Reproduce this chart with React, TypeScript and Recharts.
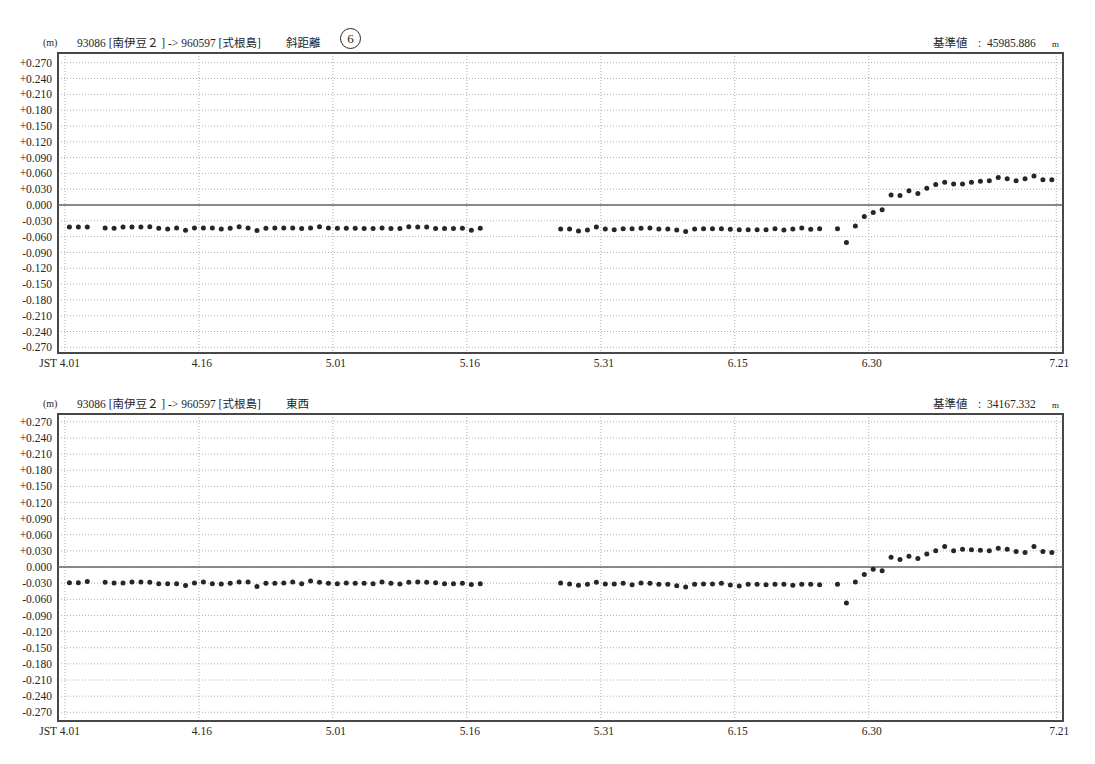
import React, { FC } from 'react';
import {
  ScatterChart,
  CartesianGrid,
  XAxis,
  YAxis,
  ReferenceLine,
  ReferenceArea,
  Scatter,
} from 'recharts';

// days counted from 4.01 (JST); observations missing on 4.04, 5.17-5.25 and 6.26
const observedDays = [
  0, 1, 2, 4, 5, 6, 7, 8, 9, 10, 11, 12, 13, 14, 15, 16, 17, 18, 19, 20, 21, 22, 23, 24,
  25, 26, 27, 28, 29, 30, 31, 32, 33, 34, 35, 36, 37, 38, 39, 40, 41, 42, 43, 44, 45, 46,
  55, 56, 57, 58, 59, 60, 61, 62, 63, 64, 65, 66, 67, 68, 69, 70, 71, 72, 73, 74, 75, 76,
  77, 78, 79, 80, 81, 82, 83, 84,
  86, 87, 88, 89, 90, 91, 92, 93, 94, 95, 96, 97, 98, 99, 100, 101, 102, 103, 104, 105,
  106, 107, 108, 109, 110,
];

// 斜距離 (m)
const slopeDistance = [
  -0.0417, -0.0417, -0.0417,
  -0.0436, -0.0442, -0.0417, -0.0417, -0.0417, -0.0411, -0.0442, -0.0455, -0.0436, -0.048,
  -0.0436, -0.0436, -0.0436, -0.0455, -0.0442, -0.0411, -0.0436, -0.0486, -0.0442, -0.0436,
  -0.0436, -0.0436, -0.0448, -0.0436, -0.0411, -0.0436, -0.0442, -0.0442, -0.0442, -0.0448,
  -0.0448, -0.0436, -0.0448, -0.0448, -0.0411, -0.0417, -0.0417, -0.0448, -0.0448, -0.0448,
  -0.0442, -0.048, -0.0442,
  -0.0456, -0.0456, -0.0495, -0.0475, -0.0418, -0.0456, -0.0469, -0.045, -0.045, -0.0443,
  -0.0437, -0.0456, -0.0456, -0.0475, -0.0501, -0.0456, -0.045, -0.045, -0.045, -0.0462,
  -0.0469, -0.0469, -0.0469, -0.0469, -0.045, -0.0475, -0.0456, -0.0437, -0.0462, -0.045,
  -0.045, -0.071, -0.04, -0.022, -0.014, -0.009, 0.019, 0.018, 0.027, 0.022, 0.032, 0.039,
  0.043, 0.04, 0.04, 0.043, 0.045, 0.046, 0.052, 0.05, 0.046, 0.05, 0.055, 0.048, 0.048,
];

// 東西 (m)
const eastWest = [
  -0.0291, -0.0291, -0.0268,
  -0.0285, -0.0297, -0.0297, -0.028, -0.028, -0.0285, -0.0309, -0.0309, -0.0309, -0.0344,
  -0.0297, -0.028, -0.0309, -0.0315, -0.0303, -0.028, -0.028, -0.0361, -0.0303, -0.0303,
  -0.0297, -0.028, -0.0309, -0.0262, -0.0285, -0.0303, -0.0309, -0.0297, -0.0303, -0.0303,
  -0.0309, -0.028, -0.0303, -0.0315, -0.0285, -0.028, -0.0285, -0.0291, -0.0309, -0.0309,
  -0.0303, -0.0326, -0.0309,
  -0.0297, -0.0315, -0.034, -0.0322, -0.0285, -0.0315, -0.0315, -0.0303, -0.0328, -0.0297,
  -0.0303, -0.0322, -0.0322, -0.0346, -0.0371, -0.0322, -0.0315, -0.0315, -0.0303, -0.0334,
  -0.0353, -0.0322, -0.0322, -0.0328, -0.0322, -0.0322, -0.034, -0.0322, -0.0322, -0.0328,
  -0.032, -0.067, -0.028, -0.014, -0.004, -0.007, 0.018, 0.014, 0.02, 0.016, 0.024, 0.03,
  0.038, 0.03, 0.033, 0.032, 0.031, 0.03, 0.035, 0.033, 0.029, 0.027, 0.038, 0.029, 0.027,
];

const dateTicks = [0, 15, 30, 45, 60, 75, 90, 111];
const dateLabels = ['JST 4.01', '4.16', '5.01', '5.16', '5.31', '6.15', '6.30', '7.21'];
const valueTicks = [
  0.27, 0.24, 0.21, 0.18, 0.15, 0.12, 0.09, 0.06, 0.03, 0, -0.03, -0.06, -0.09, -0.12,
  -0.15, -0.18, -0.21, -0.24, -0.27,
];

const X_DOMAIN: [number, number] = [-0.78, 111.75];
const FONT = "'Liberation Serif', 'Noto Sans CJK JP', serif";
const INK = '#262626';

const fmtValue = (v: number) => (v > 0 ? `+${v.toFixed(3)}` : v.toFixed(3));

const renderDateTick = (props: any) => {
  const { x, y, payload } = props;
  const i = dateTicks.indexOf(payload.value);
  const first = i === 0;
  return (
    <text
      x={first ? x + 15 : x + 3}
      y={y}
      dy="0.71em"
      textAnchor={first ? 'end' : 'middle'}
      fill={INK}
      fontSize={11.5}
      fontFamily={FONT}
    >
      {dateLabels[i]}
    </text>
  );
};

const renderDot = (props: any) => (
  <circle cx={props.cx} cy={props.cy} r={2.5} fill="#262626" />
);

const Label: FC<{ left: number; y: number; text: string; size?: number }> = ({
  left,
  y,
  text,
  size = 11.5,
}) => (
  <span
    style={{
      position: 'absolute',
      left,
      top: y - 8,
      lineHeight: '16px',
      fontSize: size,
      fontFamily: FONT,
      color: INK,
      whiteSpace: 'pre',
    }}
  >
    {text}
  </span>
);

type PanelProps = {
  top: number;
  values: number[];
  component: string;
  baseValue: string;
  circled?: string;
  plotHeight: number;
  yDomain: [number, number];
};

const MARGIN_TOP = 53;

const Panel: FC<PanelProps> = ({ top, values, component, baseValue, circled, plotHeight, yDomain }) => {
  const data = observedDays.map((d, i) => ({ t: d + 0.5, v: values[i] }));
  const height = MARGIN_TOP + plotHeight + 25;
  return (
    <div style={{ position: 'absolute', left: 0, top, width: 1095, height }}>
      <Label left={43} y={43} text="(m)" size={10} />
      <Label left={77} y={43} text="93086 [南伊豆２ ] -> 960597 [式根島]" />
      <Label left={286} y={43} text={component} />
      {circled && (
        <span
          style={{
            position: 'absolute',
            left: 340,
            top: 28,
            width: 19,
            height: 19,
            border: `1px solid ${INK}`,
            borderRadius: '50%',
            textAlign: 'center',
            lineHeight: '19px',
            fontSize: 13,
            fontFamily: FONT,
            color: INK,
          }}
        >
          {circled}
        </span>
      )}
      <Label left={933} y={43} text="基準値" />
      <Label left={978} y={43} text={`:  ${baseValue}`} />
      <Label left={1052} y={44} text="m" size={9} />
      <ScatterChart
        width={1095}
        height={height}
        margin={{ top: MARGIN_TOP, right: 32, bottom: 5, left: 8 }}
      >
        <CartesianGrid stroke="#b0b0b0" strokeDasharray="1 2" />
        <XAxis
          type="number"
          dataKey="t"
          domain={X_DOMAIN}
          ticks={dateTicks}
          interval={0}
          allowDataOverflow
          axisLine={false}
          tickLine={false}
          tickSize={4}
          tickMargin={2}
          height={20}
          tick={renderDateTick}
        />
        <YAxis
          type="number"
          dataKey="v"
          domain={yDomain}
          ticks={valueTicks}
          interval={0}
          allowDataOverflow
          axisLine={false}
          tickLine={false}
          tickSize={4}
          tickMargin={2}
          width={50}
          tickFormatter={fmtValue}
          tick={{ fill: INK, fontSize: 11.5, fontFamily: FONT }}
        />
        <ReferenceLine y={0} stroke="#666" strokeWidth={1.5} />
        <ReferenceArea
          x1={X_DOMAIN[0]}
          x2={X_DOMAIN[1]}
          y1={yDomain[0]}
          y2={yDomain[1]}
          fill="none"
          stroke="#484848"
          strokeWidth={2}
        />
        <Scatter data={data} isAnimationActive={false} shape={renderDot} />
      </ScatterChart>
    </div>
  );
};

const App: FC = () => (
  <div style={{ position: 'absolute', left: 0, top: 0, width: 1095, height: 764, background: '#fff' }}>
    <Panel
      top={0}
      values={slopeDistance}
      component="斜距離"
      baseValue="45985.886"
      circled="6"
      plotHeight={300}
      yDomain={[-0.2808, 0.2884]}
    />
    <Panel
      top={361}
      values={eastWest}
      component="東西"
      baseValue="34167.332"
      plotHeight={307}
      yDomain={[-0.2862, 0.2844]}
    />
  </div>
);

export default App;
